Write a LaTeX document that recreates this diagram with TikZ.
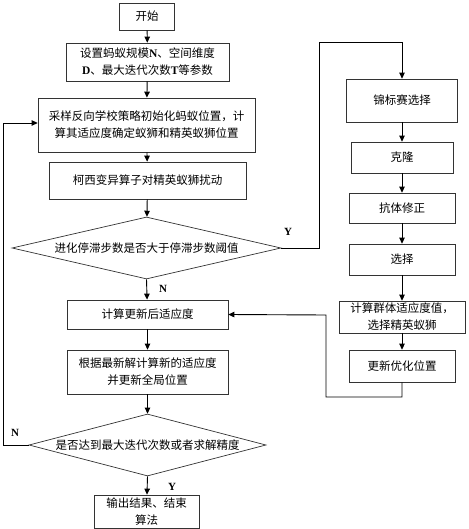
\documentclass[tikz,border=0pt]{standalone}
\usepackage{fontspec}
\setmainfont{Liberation Serif}
\newfontfamily\cjk{Noto Sans CJK SC}
\newcommand{\lat}[1]{{\fontspec{Liberation Serif}\bfseries #1}}
\usetikzlibrary{shapes.geometric,arrows.meta}
\begin{document}
\begin{tikzpicture}[x=1pt,y=-1pt,
  box/.style={draw=black!80,line width=0.7pt,rectangle,inner sep=2pt,align=center,
    font=\cjk\fontsize{11.5}{17}\selectfont},
  dia/.style={draw=black!80,line width=0.7pt,diamond,inner sep=0pt,align=center,
    font=\cjk\fontsize{11.5}{17}\selectfont},
  arr/.style={line width=0.9pt,-{Triangle[length=6pt,width=5.5pt]}},
  lbl/.style={font=\fontsize{11}{13}\selectfont\bfseries,inner sep=0pt}]
\useasboundingbox (0,0) rectangle (468,529);
% main column
\node[box,minimum width=55pt,minimum height=27pt] (start) at (147,16.5) {开始};
\node[box,minimum width=163pt,minimum height=38pt] (set) at (147.5,62) {设置蚂蚁规模\lat{N}、空间维度\\\lat{D}、最大迭代次数\lat{T}等参数};
\node[box,minimum width=217pt,minimum height=54pt] (samp) at (146.5,125) {采样反向学校策略初始化蚂蚁位置，计\\算其适应度确定蚁狮和精英蚁狮位置};
\node[box,minimum width=197pt,minimum height=37pt] (cauchy) at (147.5,180.5) {柯西变异算子对精英蚁狮扰动};
\node[dia,aspect=4.34,minimum width=269pt,minimum height=62pt] (d1) at (146.5,248) {进化停滞步数是否大于停滞步数阈值};
\node[box,minimum width=161pt,minimum height=29pt] (calc) at (147.5,314.5) {计算更新后适应度};
\node[box,minimum width=161pt,minimum height=44pt] (update) at (147.5,372) {根据最新解计算新的适应度\\并更新全局位置};
\node[dia,aspect=3.82,minimum width=237pt,minimum height=62pt] (d2) at (147.5,445) {是否达到最大迭代次数或者求解精度};
\node[box,minimum width=105pt,minimum height=33pt] (out) at (146.5,511.5) {输出结果、结束\\算法};
% right column
\node[box,minimum width=111pt,minimum height=43pt] (tour) at (402,100.5) {锦标赛选择};
\node[box,minimum width=102pt,minimum height=31pt] (clone) at (402,157.5) {克隆};
\node[box,minimum width=106pt,minimum height=30pt] (anti) at (402,208) {抗体修正};
\node[box,minimum width=106pt,minimum height=31pt] (sel) at (402,259.5) {选择};
\node[box,minimum width=126pt,minimum height=32pt] (grp) at (402,317) {计算群体适应度值，\\选择精英蚁狮};
\node[box,minimum width=106pt,minimum height=32pt] (upd) at (402,366) {更新优化位置};
% coordinates
\coordinate (c1) at (319,248);
\coordinate (c2) at (319,42);
\coordinate (c3) at (402,42);
\coordinate (c4) at (402,397);
\coordinate (c5) at (326,397);
\coordinate (c6) at (326,315);
\coordinate (c7) at (3,445);
\coordinate (c8) at (3,123);
% main connectors
\draw[arr] (start) -- (set);
\draw[arr] (set) -- (samp);
\draw[arr] (samp) -- (cauchy);
\draw[arr] (cauchy) -- (d1);
\draw[arr] (d1.south) -- (calc);
\draw[arr] (calc) -- (update);
\draw[arr] (update) -- (d2);
\draw[arr] (d2.south) -- (out);
% right connectors
\draw[arr] (d1.east) -- (c1) -- (c2) -- (c3) -- (tour.north);
\draw[arr] (tour) -- (clone);
\draw[arr] (clone) -- (anti);
\draw[arr] (anti) -- (sel);
\draw[arr] (sel) -- (grp);
\draw[arr] (grp) -- (upd);
\draw[arr] (upd.south) -- (c4) -- (c5) -- (c6) -- (calc.east);
\draw[arr] (d2.west) -- (c7) -- (c8) -- (c8 -| samp.west);
% labels
\node[lbl] (ly1) at (288,232) {Y};
\node[lbl] (ln1) at (163,289) {N};
\node[lbl] (ln2) at (15,433) {N};
\node[lbl] (ly2) at (172,487) {Y};
\end{tikzpicture}
\end{document}
